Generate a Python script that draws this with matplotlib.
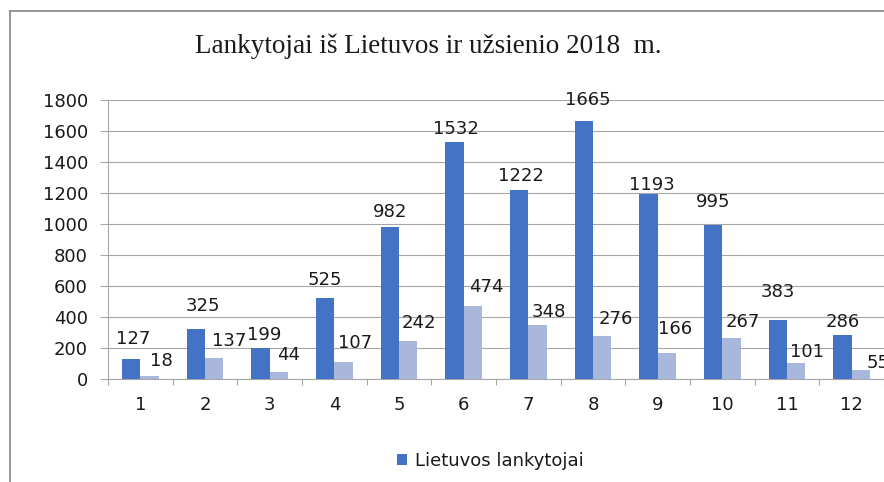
import matplotlib
matplotlib.use("Agg")
import matplotlib.pyplot as plt
import numpy as np
from matplotlib.lines import Line2D
from matplotlib.patches import Patch

# ---- data ----
months = ["1", "2", "3", "4", "5", "6", "7", "8", "9", "10", "11", "12"]
lietuvos = [127, 325, 199, 525, 982, 1532, 1222, 1665, 1193, 995, 383, 286]
uzsienio = [18, 137, 44, 107, 242, 474, 348, 276, 166, 267, 101, 55]
yticks = [0, 200, 400, 600, 800, 1000, 1200, 1400, 1600, 1800]
title = "Lankytojai iš Lietuvos ir užsienio 2018  m."
legend_label = "Lietuvos lankytojai"

# ---- label nudges (pixels: dx right, gap above bar top) ----
blue_dx = [2, 7, 3.5, 0, 0, 2, 2, 4, 3, 0, 0, 0]
blue_gap = [15, 18, 8, 13, 10, 8, 9, 16, 4, 18, 23, 8]
light_dx = [12, 15, 10, 11.5, 10.5, 13, 11.5, 13.5, 8, 11, 11, 17]
light_gap = [10, 12, 12, 14, 13, 14, 8, 12, 19, 11, 6, 2]

W, H = 884, 482
fig = plt.figure(figsize=(W / 100, H / 100), dpi=100)
fig.patch.set_facecolor("white")

ax = fig.add_axes([108 / W, (H - 379) / H, (W - 108) / W, 279 / H])

blue = "#4472C4"
light = "#A9B7DC"
grid_c = "#a6a6a6"
txt_c = "#1a1a1a"
fs = 13

x = np.arange(len(months))
bw = 0.286
ax.bar(x - bw / 2, lietuvos, bw, color=blue, zorder=3)
ax.bar(x + bw / 2, uzsienio, bw, color=light, zorder=3)

px2pt = 0.72
for i, v in enumerate(lietuvos):
    ax.annotate(str(v), (x[i] - bw / 2, v), xytext=(blue_dx[i] * px2pt, blue_gap[i] * px2pt),
                textcoords="offset points", ha="center", va="baseline",
                fontsize=fs, color=txt_c, zorder=5, annotation_clip=False)
for i, v in enumerate(uzsienio):
    ax.annotate(str(v), (x[i] + bw / 2, v), xytext=(light_dx[i] * px2pt, light_gap[i] * px2pt),
                textcoords="offset points", ha="center", va="baseline",
                fontsize=fs, color=txt_c, zorder=5, annotation_clip=False)

ax.set_xlim(-0.5, len(months) - 0.5)
ax.set_ylim(0, 1800)
ax.set_yticks(yticks)
ax.set_yticklabels([str(t) for t in yticks], fontsize=fs, color=txt_c)
ax.set_xticks(x)
ax.set_xticklabels(months, fontsize=fs, color=txt_c)
ax.set_xticks(np.arange(-0.5, len(months) + 0.5, 1), minor=True)
ax.tick_params(axis="x", which="major", length=0, pad=12)
ax.tick_params(axis="x", which="minor", length=6 * px2pt, color=grid_c, width=0.8)
ax.tick_params(axis="y", which="major", length=8 * px2pt, color=grid_c, width=0.8, pad=12 * px2pt)

ax.yaxis.grid(True, color=grid_c, linewidth=0.8, zorder=0)
ax.set_axisbelow(True)
for s in ["top", "right"]:
    ax.spines[s].set_visible(False)
ax.spines["left"].set_color(grid_c)
ax.spines["left"].set_linewidth(0.8)
ax.spines["bottom"].set_color(grid_c)
ax.spines["bottom"].set_linewidth(0.8)

fig.text(428.5 / W, (H - 53) / H, title, ha="center", va="baseline",
         fontsize=19.5, family="Liberation Serif", color=txt_c)

leg = fig.legend(handles=[Patch(facecolor=blue, edgecolor="none", label=legend_label)],
                 loc="center", bbox_to_anchor=(490 / W, (H - 461) / H), frameon=False,
                 fontsize=fs, handlelength=0.6, handleheight=0.6, handletextpad=0.4)
for t in leg.get_texts():
    t.set_color(txt_c)

# outer chart border (cropped on right and bottom)
fig.add_artist(Line2D([9.5 / W, 9.5 / W], [0, (H - 11) / H], transform=fig.transFigure,
                      color="#8c8c8c", linewidth=1.3))
fig.add_artist(Line2D([9.5 / W, 1], [(H - 11) / H, (H - 11) / H], transform=fig.transFigure,
                      color="#8c8c8c", linewidth=1.3))

fig.savefig("out.png", dpi=100)
